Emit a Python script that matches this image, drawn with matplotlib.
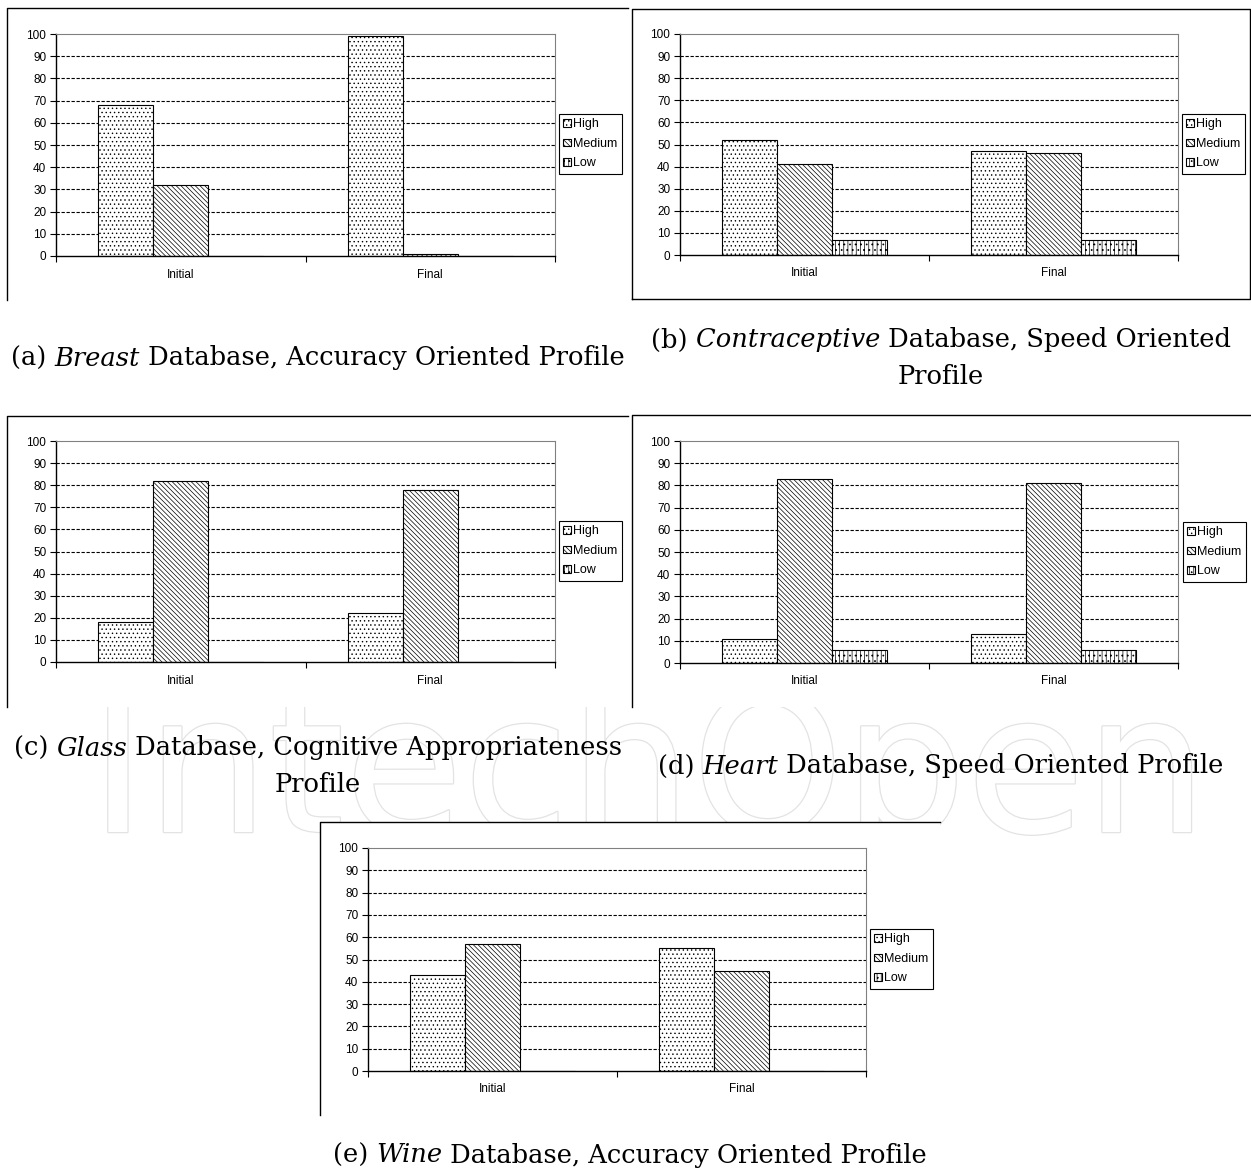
import numpy as np
import matplotlib
matplotlib.use("Agg")
import matplotlib.pyplot as plt
import matplotlib.patheffects as pe
from matplotlib.lines import Line2D
from matplotlib.patches import Rectangle

W, H = 1251, 1172

categories = ["Initial", "Final"]
series = ["High", "Medium", "Low"]
y_ticks = [0, 10, 20, 30, 40, 50, 60, 70, 80, 90, 100]

breast_high = [68, 99]
breast_medium = [32, 1]
breast_low = [0, 0]

contra_high = [52, 47]
contra_medium = [41, 46]
contra_low = [7, 7]

glass_high = [18, 22]
glass_medium = [82, 78]
glass_low = [0, 0]

heart_high = [11, 13]
heart_medium = [83, 81]
heart_low = [6, 6]

wine_high = [43, 55]
wine_medium = [57, 45]
wine_low = [0, 0]

hatches = ["....", "\\\\\\\\\\\\\\", "||||..."]

plt.rcParams["hatch.linewidth"] = 0.5
plt.rcParams["font.family"] = ["Liberation Sans", "DejaVu Sans"]

fig = plt.figure(figsize=(W / 100, H / 100), dpi=100)


def rect(l, t, r, b):
    # pixel box -> figure fraction
    return [l / W, 1 - b / H, (r - l) / W, (b - t) / H]


def frame(pts, box):
    # white backing of the pasted chart image, then its visible border
    fig.add_artist(Rectangle((box[0] / W, 1 - box[3] / H), (box[2] - box[0]) / W,
                             (box[3] - box[1]) / H, facecolor="white", edgecolor="none",
                             transform=fig.transFigure, zorder=-1))
    xs = [p[0] / W for p in pts]
    ys = [1 - p[1] / H for p in pts]
    fig.add_artist(Line2D(xs, ys, color="black", lw=1.0, transform=fig.transFigure))


def bar_panel(box, legend_xy, high, medium, low):
    ax = fig.add_axes(rect(*box))
    x = np.arange(len(categories))
    w = 0.22
    for i, (vals, name) in enumerate(zip([high, medium, low], series)):
        ax.bar(x + (i - 1) * w, vals, w, facecolor="white", edgecolor="black",
               linewidth=0.8, hatch=hatches[i], label=name, zorder=2)
    ax.hlines(y_ticks[1:-1], -0.5, 1.5, colors="black", linestyles=(0, (3, 1.5)),
              linewidth=0.8, zorder=1)
    ax.set_xlim(-0.5, 1.5)
    ax.set_ylim(0, 100)
    ax.set_yticks(y_ticks)
    ax.set_xticks([-0.5, 0.5, 1.5])
    ax.set_xticklabels([])
    ax.set_xticks(x, minor=True)
    ax.set_xticklabels(categories, minor=True, fontsize=8.5)
    ax.tick_params(axis="x", which="minor", length=0, pad=9)
    ax.tick_params(axis="x", which="major", length=4, width=0.8)
    ax.tick_params(axis="y", length=4, width=0.8, labelsize=8.5, pad=3)
    for s in ["top", "right"]:
        ax.spines[s].set_color("#808080")
    ax.spines["left"].set_linewidth(1.0)
    ax.spines["bottom"].set_linewidth(1.0)
    ax.legend(loc="upper left", bbox_to_anchor=(legend_xy[0] / W, 1 - legend_xy[1] / H),
              bbox_transform=fig.transFigure, fontsize=9, fancybox=False,
              edgecolor="black", framealpha=1, handlelength=0.6, handleheight=0.6,
              handletextpad=0.2, labelspacing=0.6, borderpad=0.35, borderaxespad=0)
    ax.get_legend().get_frame().set_linewidth(0.8)
    return ax


renderer = fig.canvas.get_renderer()
CAP_SIZE = 18.5


def text_width(s, style):
    a = fig.text(0, 0, "|" + s + "|", family="DejaVu Serif", fontsize=CAP_SIZE, style=style)
    b = fig.text(0, 0, "||", family="DejaVu Serif", fontsize=CAP_SIZE, style=style)
    wdt = a.get_window_extent(renderer).width - b.get_window_extent(renderer).width
    a.remove()
    b.remove()
    return wdt


def caption(xc, y, parts):
    widths = [text_width(s, st) for s, st in parts]
    x = xc - sum(widths) / 2
    for (s, st), wdt in zip(parts, widths):
        fig.text(x / W, 1 - y / H, s, family="DejaVu Serif", fontsize=CAP_SIZE, style=st,
                 va="center", ha="left")
        x += wdt


# watermark behind everything
fig.text(648 / W, 1 - 832 / H, "IntechOpen", fontsize=139, color="white",
         ha="center", va="baseline", zorder=-5, family="DejaVu Sans",
         path_effects=[pe.withStroke(linewidth=1.8, foreground="#e3e3e3")])

bar_panel((56, 34, 555, 256), (559, 114), breast_high, breast_medium, breast_low)
bar_panel((680, 34, 1178, 255), (1182, 114), contra_high, contra_medium, contra_low)
bar_panel((56, 441, 555, 662), (559, 521), glass_high, glass_medium, glass_low)
bar_panel((680, 441, 1178, 663), (1183, 522), heart_high, heart_medium, heart_low)
bar_panel((368, 848, 866, 1071), (870, 929), wine_high, wine_medium, wine_low)

# panel frames (as cropped in the source)
frame([(7, 300), (7, 8), (628, 8)], (7, 8, 628, 300))
frame([(632, 299), (632, 9), (1250, 9), (1250, 299), (632, 299)], (632, 9, 1250, 299))
frame([(7, 707), (7, 416), (628, 416)], (7, 416, 628, 707))
frame([(632, 707), (632, 415), (1251, 415)], (632, 415, 1251, 707))
frame([(320, 1115), (320, 822), (940, 822)], (320, 822, 940, 1115))

caption(318, 358, [("(a) ", "normal"), ("Breast", "italic"),
                   (" Database, Accuracy Oriented Profile", "normal")])
caption(941, 340, [("(b) ", "normal"), ("Contraceptive", "italic"),
                   (" Database, Speed Oriented", "normal")])
caption(941, 377, [("Profile", "normal")])
caption(318, 748, [("(c) ", "normal"), ("Glass", "italic"),
                   (" Database, Cognitive Appropriateness", "normal")])
caption(318, 784, [("Profile", "normal")])
caption(941, 766, [("(d) ", "normal"), ("Heart", "italic"),
                   (" Database, Speed Oriented Profile", "normal")])
caption(630, 1155, [("(e) ", "normal"), ("Wine", "italic"),
                    (" Database, Accuracy Oriented Profile", "normal")])

fig.savefig("out.png", dpi=100)
